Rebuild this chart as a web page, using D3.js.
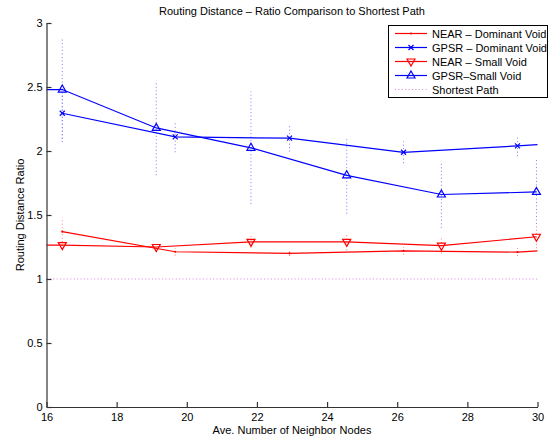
<!DOCTYPE html>
<html><head><meta charset="utf-8">
<script src="https://cdn.jsdelivr.net/npm/d3@7"></script>
<style>body{margin:0;background:#fff}svg{display:block;font-family:"Liberation Sans",Arial,sans-serif}</style>
</head><body><svg id="c" width="551" height="438"></svg>
<script>
// ---- data ----
const xTicks = [16, 18, 20, 22, 24, 26, 28, 30];
const yTicks = [0, 0.5, 1, 1.5, 2, 2.5, 3];

const dominantX = [16.45, 19.67, 22.93, 26.18, 29.43];
const nearDomY   = [1.37, 1.213, 1.20, 1.22, 1.21];
const nearDomErr = [0.11, 0.03, 0.02, 0.03, 0.03];
const gpsrDomY   = [2.295, 2.11, 2.10, 1.99, 2.04];
const gpsrDomErr = [0.20, 0.12, 0.105, 0.085, 0.08];
const dominantLineEndX = 30;
const nearDomEndY = 1.22;
const gpsrDomEndY = 2.05;

const smallX = [16.45, 19.13, 21.83, 24.56, 27.26, 29.97];
const nearSmallY   = [1.265, 1.25, 1.29, 1.29, 1.26, 1.33];
const nearSmallErr = [0.03, 0.04, 0.045, 0.065, 0.06, 0.09];
const gpsrSmallY   = [2.48, 2.18, 2.025, 1.81, 1.66, 1.68];
const gpsrSmallErr = [0.41, 0.37, 0.44, 0.30, 0.26, 0.25];
const smallLineStartX = 16;
const nearSmallStartY = 1.265;
const gpsrSmallStartY = 2.48;

const shortestPathY = 1;
const legendLabels = ["NEAR \u2013 Dominant Void", "GPSR \u2013 Dominant Void", "NEAR \u2013 Small Void", "GPSR\u2013Small Void", "Shortest Path"];
const titleText = "Routing Distance \u2013 Ratio Comparison to Shortest Path";
const xLabel = "Ave. Number of Neighbor Nodes";
const yLabel = "Routing Distance Ratio";

// ---- drawing ----
const svg = d3.select("#c");
const x = d3.scaleLinear().domain([16, 30]).range([46.5, 537.5]);
const y = d3.scaleLinear().domain([0, 3]).range([407, 23]);
const RED = "#ff0000", BLUE = "#0000ff";

svg.append("text").attr("x", 292).attr("y", 15).attr("text-anchor", "middle")
  .attr("font-size", 11).text(titleText);

// shortest path
svg.append("line").attr("x1", x(16)).attr("x2", x(30)).attr("y1", y(shortestPathY)).attr("y2", y(shortestPathY))
  .attr("stroke", "#e27ee2").attr("stroke-width", 1).attr("stroke-dasharray", "1,2.4");

function errbars(xs, ys, es, color) {
  svg.append("g").selectAll("line").data(xs).join("line")
    .attr("x1", d => x(d)).attr("x2", d => x(d))
    .attr("y1", (d, i) => y(ys[i] - es[i])).attr("y2", (d, i) => y(ys[i] + es[i]))
    .attr("stroke", color).attr("stroke-width", 1).attr("stroke-dasharray", "1,2.5");
}
errbars(smallX, gpsrSmallY, gpsrSmallErr, "#7b7bff");
errbars(dominantX, gpsrDomY, gpsrDomErr, "#7b7bff");
errbars(smallX, nearSmallY, nearSmallErr, "#ff7b7b");
errbars(dominantX, nearDomY, nearDomErr, "#ff7b7b");

const line = d3.line().x(d => x(d[0])).y(d => y(d[1]));
function series(pts, color) {
  svg.append("path").attr("d", line(pts)).attr("fill", "none").attr("stroke", color).attr("stroke-width", 1.2);
}
series([[smallLineStartX, gpsrSmallStartY]].concat(smallX.map((d, i) => [d, gpsrSmallY[i]])), BLUE);
series([[smallLineStartX, nearSmallStartY]].concat(smallX.map((d, i) => [d, nearSmallY[i]])), RED);
series(dominantX.map((d, i) => [d, gpsrDomY[i]]).concat([[dominantLineEndX, gpsrDomEndY]]), BLUE);
series(dominantX.map((d, i) => [d, nearDomY[i]]).concat([[dominantLineEndX, nearDomEndY]]), RED);

function marker(g, type, cx, cy, color) {
  if (type === "up") {
    g.append("path").attr("d", `M${cx},${cy - 4.5}L${cx + 4},${cy + 2.5}L${cx - 4},${cy + 2.5}Z`)
      .attr("fill", "none").attr("stroke", color).attr("stroke-width", 1.2);
  } else if (type === "down") {
    g.append("path").attr("d", `M${cx},${cy + 4.5}L${cx + 4},${cy - 2.5}L${cx - 4},${cy - 2.5}Z`)
      .attr("fill", "none").attr("stroke", color).attr("stroke-width", 1.2);
  } else if (type === "x") {
    g.append("path").attr("d", `M${cx - 2.5},${cy - 2.5}L${cx + 2.5},${cy + 2.5}M${cx - 2.5},${cy + 2.5}L${cx + 2.5},${cy - 2.5}`)
      .attr("stroke", color).attr("stroke-width", 1.2);
  } else if (type === "dot") {
    g.append("circle").attr("cx", cx).attr("cy", cy).attr("r", 1.1).attr("fill", color);
  }
}
const mg = svg.append("g");
smallX.forEach((d, i) => marker(mg, "up", x(d), y(gpsrSmallY[i]), BLUE));
smallX.forEach((d, i) => marker(mg, "down", x(d), y(nearSmallY[i]), RED));
dominantX.forEach((d, i) => marker(mg, "x", x(d), y(gpsrDomY[i]), BLUE));
dominantX.forEach((d, i) => marker(mg, "dot", x(d), y(nearDomY[i]), RED));

// axes
const fmt = d3.format("~g");
const ax = svg.append("g").attr("transform", "translate(0,407)")
  .call(d3.axisBottom(x).tickValues(xTicks).tickFormat(fmt).tickSizeInner(-5).tickSizeOuter(0).tickPadding(6));
const ay = svg.append("g").attr("transform", "translate(46.5,0)")
  .call(d3.axisLeft(y).tickValues(yTicks).tickFormat(fmt).tickSizeInner(-5).tickSizeOuter(0).tickPadding(4));
[ax, ay].forEach(g => {
  g.selectAll("path,line").attr("stroke", "#333").attr("stroke-width", 1.2);
  g.selectAll("text").attr("font-size", 11).attr("fill", "#000").attr("font-family", "Liberation Sans, Arial, sans-serif");
});

svg.append("text").attr("x", 292).attr("y", 434).attr("text-anchor", "middle").attr("font-size", 11).text(xLabel);
svg.append("text").attr("transform", "translate(24,215) rotate(-90)").attr("text-anchor", "middle")
  .attr("font-size", 11).text(yLabel);

// legend
const lg = svg.append("g");
lg.append("rect").attr("x", 388.5).attr("y", 25.5).attr("width", 159).attr("height", 72)
  .attr("fill", "#fff").attr("stroke", "#000").attr("stroke-width", 1);
const legendStyles = [
  {c: RED, m: "dot"}, {c: BLUE, m: "x"}, {c: RED, m: "down"}, {c: BLUE, m: "up"}, {c: "#e27ee2", m: null, dash: "1,2.4"}
];
legendLabels.forEach((t, i) => {
  const yy = 33.5 + i * 14;
  const s = legendStyles[i];
  lg.append("line").attr("x1", 395).attr("x2", 427).attr("y1", yy).attr("y2", yy)
    .attr("stroke", s.c).attr("stroke-width", s.m ? 1.2 : 1).attr("stroke-dasharray", s.dash || null);
  if (s.m) marker(lg, s.m, 411, yy, s.c);
  lg.append("text").attr("x", 432).attr("y", yy + 4).attr("font-size", 11).text(t);
});
</script></body></html>
